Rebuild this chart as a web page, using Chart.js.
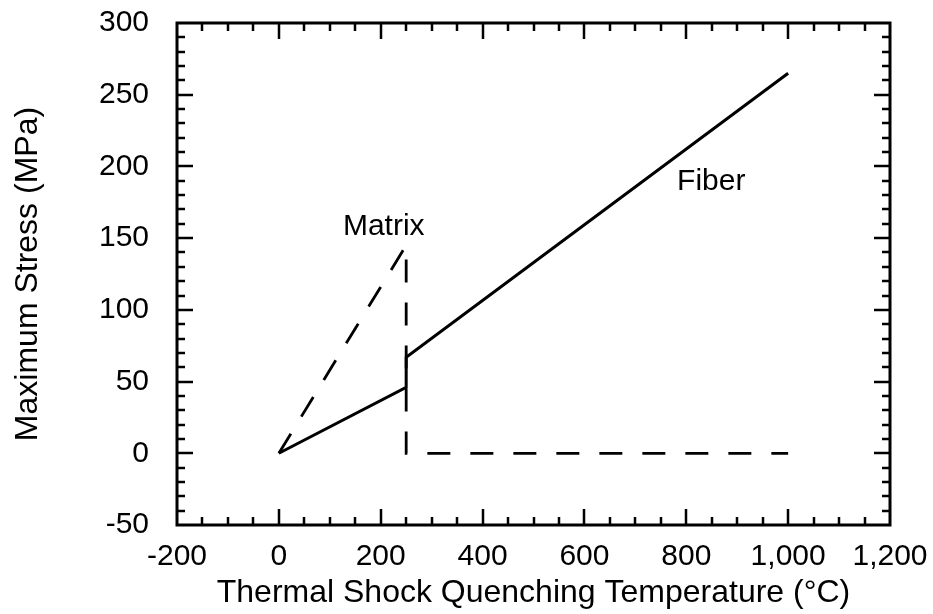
<!DOCTYPE html>
<html>
<head>
<meta charset="utf-8">
<script src="https://cdn.jsdelivr.net/npm/chart.js@4/dist/chart.umd.min.js"></script>
<style>
  body { margin: 0; background: #fff; }
  canvas { display: block; }
</style>
</head>
<body>
<canvas id="stressChart" width="933" height="614"></canvas>
<script>
// values
const fiberTemp = [0, 250, 250, 1000]
const fiberStress = [0, 46, 67, 265]
const matrixTemp = [0, 250, 250, 1000]
const matrixStress = [0, 145, 0, 0]

const xMin = -200, xMax = 1200, xStep = 200, xMinorStep = 50
const yMin = -50, yMax = 300, yStep = 50, yMinorStep = 10

// curve labels, in data coordinates
const curveLabels = [
    { text: 'Matrix', x: 206, y: 158 },
    { text: 'Fiber', x: 849, y: 189 }
]

const FONT = "'Liberation Sans', Arial, Helvetica, sans-serif"
const INK = '#000'

function toPairs(xs, ys){
    return xs.map((x, i) => ({ x, y: ys[i] }))
}

// frame on all four sides with inward major/minor ticks
const framePlugin = {
    id: 'frameTicks',
    afterDatasetsDraw(chart){
        const { ctx, chartArea: a, scales } = chart
        const xs = scales.x, ys = scales.y
        ctx.save()
        ctx.strokeStyle = INK
        ctx.lineWidth = 2.5
        ctx.lineCap = 'butt'
        ctx.beginPath()
        for(let v = xMin + xMinorStep; v < xMax; v += xMinorStep){
            const px = Math.round(xs.getPixelForValue(v))
            const len = v % xStep === 0 ? 16 : 8
            ctx.moveTo(px, a.bottom); ctx.lineTo(px, a.bottom - len)
            ctx.moveTo(px, a.top); ctx.lineTo(px, a.top + len)
        }
        for(let v = yMin + yMinorStep; v < yMax; v += yMinorStep){
            const py = Math.round(ys.getPixelForValue(v))
            const len = v % yStep === 0 ? 16 : 8
            ctx.moveTo(a.left, py); ctx.lineTo(a.left + len, py)
            ctx.moveTo(a.right, py); ctx.lineTo(a.right - len, py)
        }
        ctx.stroke()
        ctx.lineWidth = 3
        ctx.strokeRect(a.left, a.top, a.right - a.left, a.bottom - a.top)

        ctx.fillStyle = INK
        ctx.font = '30px ' + FONT
        ctx.textAlign = 'center'
        ctx.textBaseline = 'middle'
        curveLabels.forEach(l => {
            ctx.fillText(l.text, xs.getPixelForValue(l.x), ys.getPixelForValue(l.y))
        })
        ctx.restore()
    }
}

new Chart(document.getElementById('stressChart'), {
    type: 'scatter',
    data: {
        datasets: [
            {
                label: 'Fiber',
                data: toPairs(fiberTemp, fiberStress),
                showLine: true,
                borderColor: INK,
                borderWidth: 3,
                pointRadius: 0,
                tension: 0
            },
            {
                label: 'Matrix',
                data: toPairs(matrixTemp, matrixStress),
                showLine: true,
                borderColor: INK,
                borderWidth: 2.8,
                borderDash: [23, 20],
                pointRadius: 0,
                tension: 0
            }
        ]
    },
    options: {
        responsive: false,
        animation: false,
        layout: { padding: { top: 23, right: 43, left: 0, bottom: 0 } },
        plugins: {
            legend: { display: false },
            tooltip: { enabled: false }
        },
        scales: {
            x: {
                type: 'linear',
                min: xMin,
                max: xMax,
                afterFit(scale){
                    scale.height = 89
                    scale.paddingLeft = 0
                    scale.paddingRight = 0
                },
                grid: { display: false, drawTicks: false },
                border: { display: false },
                ticks: {
                    stepSize: xStep,
                    padding: 14,
                    color: INK,
                    maxRotation: 0,
                    font: { family: FONT, size: 30 },
                    callback: v => v.toLocaleString('en-US')
                },
                title: {
                    display: true,
                    text: 'Thermal Shock Quenching Temperature (°C)',
                    color: INK,
                    font: { family: FONT, size: 32 },
                    padding: { top: 0, bottom: 2 }
                }
            },
            y: {
                min: yMin,
                max: yMax,
                afterFit(scale){
                    scale.width = 177
                    scale.paddingTop = 0
                    scale.paddingBottom = 0
                },
                grid: { display: false, drawTicks: false },
                border: { display: false },
                ticks: {
                    stepSize: yStep,
                    padding: 28,
                    color: INK,
                    font: { family: FONT, size: 30 }
                },
                title: {
                    display: true,
                    text: 'Maximum Stress (MPa)',
                    color: INK,
                    font: { family: FONT, size: 32 },
                    padding: { top: 9, bottom: 9 }
                }
            }
        }
    },
    plugins: [framePlugin]
})
</script>
</body>
</html>
